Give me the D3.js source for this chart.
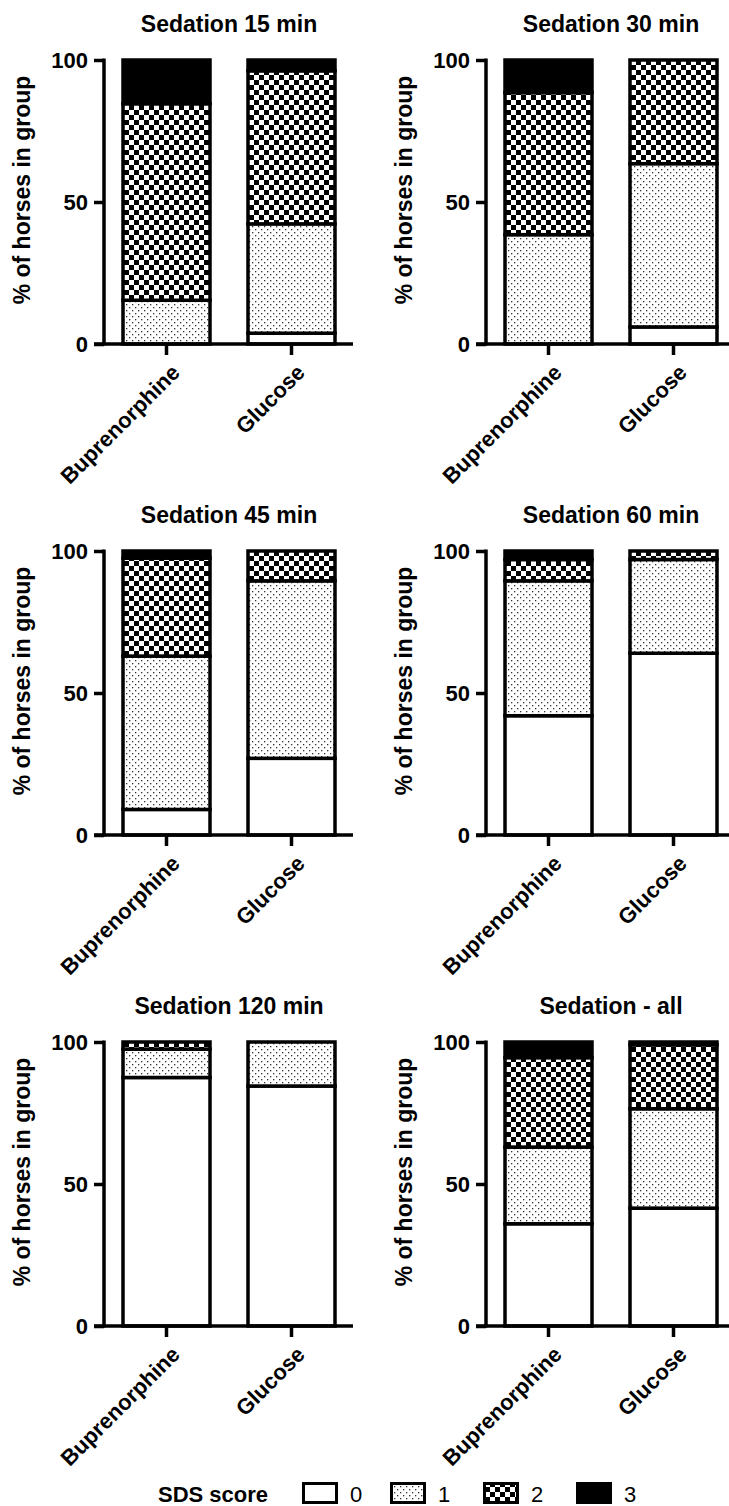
<!DOCTYPE html>
<html><head><meta charset="utf-8">
<script src="https://cdn.jsdelivr.net/npm/d3@7"></script>
<style>
body{margin:0;background:#fff;}
svg{display:block;font-family:"Liberation Sans",Arial,sans-serif;}
</style></head>
<body><svg id="chart" width="729" height="1506"></svg>
<script>
const categories = ["Buprenorphine", "Glucose"];
const panelTitles = ["Sedation 15 min", "Sedation 30 min", "Sedation 45 min", "Sedation 60 min", "Sedation 120 min", "Sedation - all"];
const scoreKeys = ["0", "1", "2", "3"];
// values per panel: [Buprenorphine, Glucose]
const score0 = [[0, 3.8], [0, 6], [9, 27], [42, 64], [87.5, 84.5], [36, 41.5]];
const score1 = [[15.4, 38.5], [38.5, 57.5], [54, 62.5], [47.5, 33], [10, 15.5], [27, 35]];
const score2 = [[69.2, 53.9], [50, 36.5], [34.5, 10.5], [7.5, 3], [2.5, 0], [31.5, 22.5]];
const score3 = [[15.4, 3.8], [11.5, 0], [2.5, 0], [3, 0], [0, 0], [5.5, 1]];
const yTicks = [0, 50, 100];
const yTitle = "% of horses in group";
const legendTitle = "SDS score";

const svg = d3.select("#chart");
const defs = svg.append("defs");
const pd = defs.append("pattern").attr("id", "dots").attr("patternUnits", "userSpaceOnUse")
  .attr("width", 6).attr("height", 6);
pd.append("rect").attr("width", 6).attr("height", 6).attr("fill", "#fff");
pd.append("rect").attr("x", 1).attr("y", 1).attr("width", 1.3).attr("height", 1.3).attr("fill", "#333");
pd.append("rect").attr("x", 4).attr("y", 4).attr("width", 1.3).attr("height", 1.3).attr("fill", "#333");
const pc = defs.append("pattern").attr("id", "checker").attr("patternUnits", "userSpaceOnUse")
  .attr("width", 10).attr("height", 10);
pc.append("rect").attr("width", 10).attr("height", 10).attr("fill", "#fff");
pc.append("rect").attr("x", 0).attr("y", 0).attr("width", 5).attr("height", 5).attr("fill", "#000");
pc.append("rect").attr("x", 5).attr("y", 5).attr("width", 5).attr("height", 5).attr("fill", "#000");

const fills = {"0": "#fff", "1": "url(#dots)", "2": "url(#checker)", "3": "#000"};
const series = [score0, score1, score2, score3];

const plotW = 250, plotH = 284;
const colX = [104, 486];
const rowY = [60, 551, 1042];
const SW = 3.5;

const x = d3.scaleBand().domain(categories).range([0, plotW]).paddingInner(0.304).paddingOuter(0.152);
const y = d3.scaleLinear().domain([0, 100]).range([plotH, 0]);

panelTitles.forEach((title, pi) => {
  const g = svg.append("g").attr("transform", `translate(${colX[pi % 2]},${rowY[Math.floor(pi / 2)]})`);
  const rows = categories.map((c, ci) => {
    const o = {cat: c};
    scoreKeys.forEach((k, si) => o[k] = series[si][pi][ci]);
    return o;
  });
  const stacked = d3.stack().keys(scoreKeys)(rows);
  stacked.forEach(layer => {
    g.selectAll(null).data(layer.filter(d => d[1] - d[0] > 0)).enter().append("rect")
      .attr("x", d => x(d.data.cat))
      .attr("width", x.bandwidth())
      .attr("y", d => y(d[1]))
      .attr("height", d => y(d[0]) - y(d[1]))
      .attr("fill", fills[layer.key])
      .attr("stroke", "#000").attr("stroke-width", SW);
  });
  const ya = g.append("g").call(d3.axisLeft(y).tickValues(yTicks).tickSize(10).tickPadding(6));
  ya.select(".domain").attr("stroke-width", SW).attr("d", `M0,${plotH + 1.5}V-1.5`);
  ya.selectAll(".tick line").attr("stroke-width", SW);
  ya.selectAll(".tick text").attr("font-size", 22).attr("font-weight", "bold").attr("font-family", "Liberation Sans, Arial, sans-serif");
  const xa = g.append("g").attr("transform", `translate(0,${plotH})`)
    .call(d3.axisBottom(x).tickSize(11).tickPadding(0));
  xa.select(".domain").attr("stroke-width", SW).attr("d", `M-10,0H${plotW - 1}`);
  xa.selectAll(".tick line").attr("stroke-width", SW);
  xa.selectAll(".tick text").attr("font-size", 22).attr("font-weight", "bold")
    .attr("font-family", "Liberation Sans, Arial, sans-serif")
    .attr("text-anchor", "end").attr("dy", null)
    .attr("transform", "translate(7,22) rotate(-45)");
  g.append("text").attr("x", plotW / 2).attr("y", -28).attr("text-anchor", "middle")
    .attr("font-size", 23).attr("font-weight", "bold").text(title);
  g.append("text").attr("transform", `translate(-74,${plotH / 2 - 12}) rotate(-90)`)
    .attr("text-anchor", "middle").attr("font-size", 23).attr("font-weight", "bold").text(yTitle);
});

const lg = svg.append("g").attr("transform", "translate(0,1482)");
lg.append("text").attr("x", 158).attr("y", 20).attr("font-size", 22).attr("font-weight", "bold").text(legendTitle);
const lx = [302, 390, 483, 576];
scoreKeys.forEach((k, i) => {
  lg.append("rect").attr("x", lx[i] + 1.5).attr("y", 1.5).attr("width", 33).attr("height", 19)
    .attr("fill", fills[k]).attr("stroke", "#000").attr("stroke-width", 3);
  lg.append("text").attr("x", lx[i] + 48).attr("y", 20).attr("font-size", 22).text(k);
});
</script></body></html>
